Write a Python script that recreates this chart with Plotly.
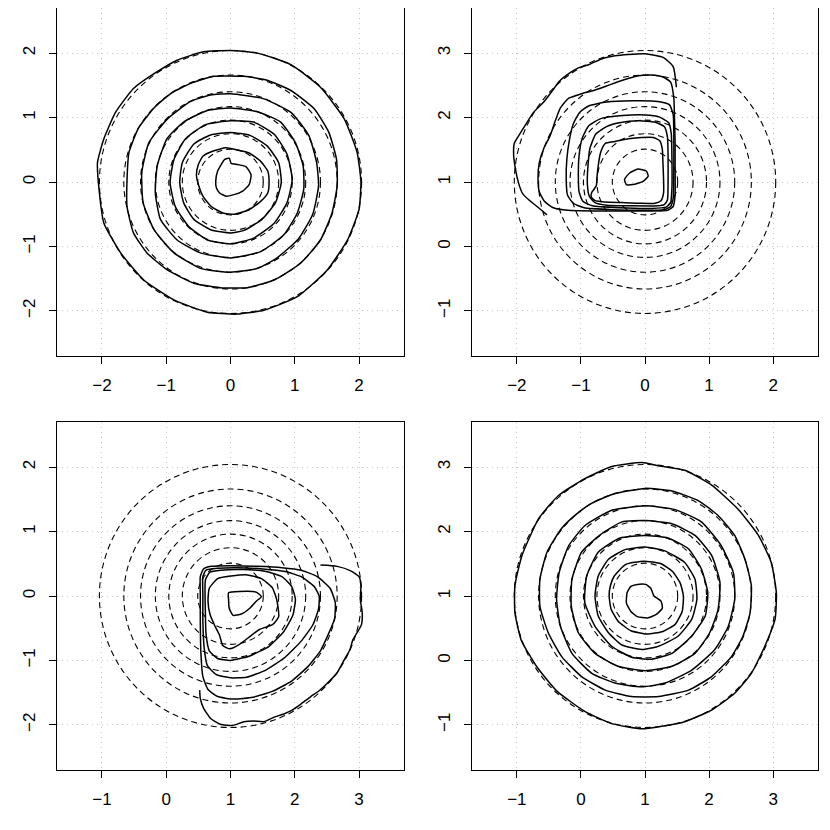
import plotly.graph_objects as go

# ---------------- theoretical contour radii (dashed circles) ----------------
RADII = [2.04, 1.66, 1.40, 1.17, 0.96, 0.75, 0.51]
CENTER_TL = (0.0, 0.0)
CENTER_TR = (0.0, 1.0)
CENTER_BL = (1.0, 0.0)
CENTER_BR = (1.0, 1.0)

# ---------------- tick values ----------------
TICKS_TL_X = [-2, -1, 0, 1, 2]
TICKS_TL_Y = [-2, -1, 0, 1, 2]
TICKS_TR_X = [-2, -1, 0, 1, 2]
TICKS_TR_Y = [-1, 0, 1, 2, 3]
TICKS_BL_X = [-1, 0, 1, 2, 3]
TICKS_BL_Y = [-2, -1, 0, 1, 2]
TICKS_BR_X = [-1, 0, 1, 2, 3]
TICKS_BR_Y = [-1, 0, 1, 2, 3]

# ---------------- top-left: empirical contours ----------------
TL_A_X = [0, 0.42, 0.94, 1.40, 1.77, 1.97, 2.03, 2.0, 1.82, 1.51, 1.04, 0.52, 0.10, -0.36, -0.88, -1.35, -1.71, -1.97, -2.04, -2.07, -1.97, -1.79, -1.51, -1.19, -0.83, -0.42, 0]
TL_A_Y = [2.04, 2.0, 1.82, 1.47, 0.98, 0.46, 0.0, -0.43, -0.90, -1.36, -1.78, -1.99, -2.05, -2.02, -1.83, -1.52, -1.10, -0.64, -0.17, 0.30, 0.67, 1.08, 1.45, 1.68, 1.89, 2.02, 2.04]
TL_B_X = [-1.18, -0.92, -0.62, -0.26, 0.21, 0.57, 0.94, 1.30, 1.53, 1.65, 1.66, 1.58, 1.40, 1.09, 0.68, 0.26, -0.16, -0.57, -0.99, -1.30, -1.51, -1.61, -1.61, -1.58, -1.43, -1.18]
TL_B_Y = [1.16, 1.38, 1.53, 1.64, 1.64, 1.58, 1.42, 1.14, 0.77, 0.35, -0.06, -0.48, -0.90, -1.26, -1.52, -1.64, -1.64, -1.57, -1.36, -1.10, -0.79, -0.38, 0.04, 0.46, 0.84, 1.16]
TL_C_X = [0, 0.52, 0.94, 1.22, 1.34, 1.37, 1.28, 1.06, 0.72, 0.42, 0, -0.47, -0.88, -1.19, -1.36, -1.38, -1.27, -0.98, -0.62, -0.31, 0]
TL_C_Y = [1.37, 1.29, 1.08, 0.72, 0.30, -0.06, -0.50, -0.88, -1.18, -1.34, -1.40, -1.34, -1.10, -0.74, -0.32, 0.15, 0.61, 0.98, 1.25, 1.35, 1.37]
TL_D_X = [0, 0.42, 0.78, 1.01, 1.13, 1.14, 1.04, 0.83, 0.47, 0, -0.47, -0.83, -1.09, -1.17, -1.14, -0.99, -0.73, -0.36, 0]
TL_D_Y = [1.15, 1.09, 0.93, 0.61, 0.25, -0.11, -0.48, -0.82, -1.08, -1.18, -1.10, -0.90, -0.58, -0.17, 0.25, 0.67, 0.93, 1.11, 1.15]
TL_E_X = [0, 0.36, 0.68, 0.88, 0.96, 0.88, 0.68, 0.36, 0, -0.36, -0.65, -0.86, -0.94, -0.88, -0.70, -0.39, 0]
TL_E_Y = [0.95, 0.93, 0.74, 0.43, 0.04, -0.32, -0.64, -0.87, -0.96, -0.90, -0.69, -0.38, -0.01, 0.35, 0.67, 0.89, 0.95]
TL_F_X = [0, 0.31, 0.57, 0.75, 0.79, 0.70, 0.49, 0.21, 0, -0.31, -0.57, -0.73, -0.79, -0.75, -0.57, -0.31, 0]
TL_F_Y = [0.77, 0.72, 0.56, 0.30, -0.01, -0.32, -0.58, -0.75, -0.79, -0.74, -0.58, -0.32, -0.01, 0.30, 0.59, 0.73, 0.77]
TL_G_X = [-0.50, -0.43, -0.27, -0.07, 0.09, 0.29, 0.47, 0.58, 0.60, 0.58, 0.47, 0.29, 0.06, -0.12, -0.30, -0.43, -0.50, -0.53, -0.50]
TL_G_Y = [0.27, 0.40, 0.48, 0.53, 0.50, 0.45, 0.32, 0.17, 0.01, -0.17, -0.30, -0.43, -0.50, -0.48, -0.38, -0.22, -0.04, 0.11, 0.27]
TL_H_X = [-0.23, -0.20, -0.09, -0.02, 0.01, 0.11, 0.24, 0.32, 0.29, 0.19, 0.04, -0.07, -0.17, -0.22, -0.23]
TL_H_Y = [0.01, 0.17, 0.35, 0.37, 0.29, 0.27, 0.24, 0.11, -0.04, -0.14, -0.20, -0.22, -0.17, -0.09, 0.01]

# ---------------- top-right: empirical contours ----------------
TR_A_X = [0.49, 0.44, 0.29, 0.0, -0.26, -0.47, -0.65, -0.88, -1.04, -1.19, -1.34, -1.45, -1.58, -1.74, -1.87, -1.97, -2.04, -2.05, -2.03, -2.0, -1.96, -1.91, -1.81, -1.66, -1.53]
TR_A_Y = [2.47, 2.79, 2.93, 2.99, 2.98, 2.96, 2.92, 2.82, 2.77, 2.68, 2.56, 2.41, 2.24, 2.08, 1.88, 1.72, 1.60, 1.41, 1.25, 1.09, 0.94, 0.82, 0.72, 0.60, 0.49]
TR_B_X = [-0.99, -1.19, -1.32, -1.40, -1.48, -1.58, -1.65, -1.67, -1.65, -1.57, -1.43, -1.2, -0.8, -0.3, 0.1, 0.35, 0.44, 0.47, 0.47, 0.47, 0.46, 0.45, 0.40, 0.28, 0.1, -0.1, -0.35, -0.6, -0.8, -0.99]
TR_B_Y = [2.37, 2.30, 2.15, 1.95, 1.72, 1.52, 1.30, 1.05, 0.85, 0.70, 0.60, 0.56, 0.55, 0.55, 0.55, 0.56, 0.62, 0.80, 1.2, 1.6, 2.0, 2.3, 2.55, 2.63, 2.66, 2.65, 2.58, 2.49, 2.42, 2.37]
TR_C_X = [-0.88, -1.02, -1.12, -1.18, -1.22, -1.23, -1.21, -1.12, -0.95, -0.5, 0, 0.3, 0.40, 0.44, 0.45, 0.45, 0.44, 0.38, 0.2, -0.2, -0.6, -0.88]
TR_C_Y = [2.18, 2.08, 1.90, 1.65, 1.35, 1.05, 0.80, 0.67, 0.60, 0.57, 0.56, 0.57, 0.62, 0.75, 1.2, 1.7, 2.05, 2.20, 2.25, 2.26, 2.24, 2.18]
TR_D_X = [-0.7, -0.88, -0.98, -1.03, -1.04, -1.03, -0.97, -0.82, -0.4, 0.1, 0.33, 0.40, 0.42, 0.42, 0.41, 0.37, 0.22, 0, -0.35, -0.7]
TR_D_Y = [1.98, 1.87, 1.68, 1.40, 1.10, 0.85, 0.70, 0.63, 0.60, 0.59, 0.61, 0.68, 0.9, 1.4, 1.75, 1.92, 2.01, 2.04, 2.03, 1.98]
TR_E_X = [-0.6, -0.77, -0.86, -0.89, -0.90, -0.87, -0.78, -0.6, -0.2, 0.2, 0.3, 0.35, 0.36, 0.36, 0.35, 0.30, 0.15, -0.1, -0.4, -0.6]
TR_E_Y = [1.86, 1.74, 1.52, 1.25, 0.98, 0.78, 0.68, 0.64, 0.63, 0.63, 0.65, 0.72, 1.0, 1.4, 1.7, 1.86, 1.93, 1.95, 1.92, 1.86]
TR_F_X = [-0.62, -0.47, -0.26, -0.05, 0.13, 0.23, 0.27, 0.28, 0.29, 0.29, 0.25, 0.16, -0.10, -0.36, -0.62, -0.78, -0.84, -0.83, -0.76, -0.75, -0.73, -0.70, -0.66, -0.62]
TR_F_Y = [1.60, 1.63, 1.67, 1.69, 1.69, 1.64, 1.51, 1.30, 1.04, 0.83, 0.71, 0.67, 0.67, 0.68, 0.69, 0.71, 0.77, 0.84, 0.94, 1.07, 1.25, 1.43, 1.54, 1.60]
TR_H_X = [-0.32, -0.24, -0.11, 0.02, 0.05, -0.03, -0.19, -0.29, -0.32]
TR_H_Y = [1.04, 1.14, 1.20, 1.17, 1.09, 1.01, 0.96, 0.96, 1.04]

# ---------------- bottom-left: empirical contours ----------------
BL_A_X = [2.40, 2.66, 2.87, 3.0, 3.03, 3.02, 3.05, 3.04, 2.97, 2.90, 2.86, 2.77, 2.66, 2.51, 2.38, 2.25, 2.09, 1.96, 1.83, 1.68, 1.52, 1.36, 1.21, 1.03, 0.84, 0.69, 0.58, 0.53, 0.52]
BL_A_Y = [0.48, 0.46, 0.39, 0.30, 0.16, -0.05, -0.26, -0.44, -0.57, -0.69, -0.83, -0.99, -1.19, -1.35, -1.47, -1.56, -1.68, -1.77, -1.83, -1.88, -1.95, -1.94, -1.95, -2.01, -1.99, -1.90, -1.74, -1.59, -1.46]
BL_B_X = [0.53, 0.58, 0.7, 1.0, 1.4, 1.8, 2.1, 2.35, 2.55, 2.63, 2.62, 2.52, 2.40, 2.2, 1.95, 1.65, 1.35, 1.05, 0.8, 0.65, 0.57, 0.54, 0.53, 0.53, 0.53]
BL_B_Y = [0.30, 0.42, 0.46, 0.47, 0.46, 0.44, 0.40, 0.30, 0.12, -0.10, -0.35, -0.60, -0.85, -1.10, -1.32, -1.48, -1.57, -1.60, -1.56, -1.45, -1.25, -0.9, -0.4, 0.0, 0.30]
BL_C_X = [0.57, 0.62, 0.8, 1.1, 1.5, 1.85, 2.1, 2.3, 2.38, 2.37, 2.28, 2.1, 1.85, 1.55, 1.25, 1.0, 0.78, 0.64, 0.59, 0.57, 0.57, 0.57]
BL_C_Y = [0.30, 0.40, 0.43, 0.44, 0.42, 0.38, 0.30, 0.15, 0.0, -0.2, -0.45, -0.7, -0.95, -1.15, -1.26, -1.27, -1.22, -1.08, -0.8, -0.4, 0.0, 0.30]
BL_D_X = [0.61, 0.68, 0.85, 1.2, 1.55, 1.8, 1.95, 2.01, 1.97, 1.83, 1.6, 1.3, 1.0, 0.8, 0.67, 0.62, 0.61, 0.61]
BL_D_Y = [0.25, 0.37, 0.40, 0.41, 0.38, 0.30, 0.15, -0.05, -0.3, -0.55, -0.78, -0.93, -1.0, -0.97, -0.85, -0.6, -0.3, 0.25]
BL_G_X = [0.67, 0.80, 1.01, 1.24, 1.48, 1.65, 1.72, 1.75, 1.66, 1.45, 1.30, 1.14, 0.99, 0.88, 0.83, 0.75, 0.68, 0.65, 0.67]
BL_G_Y = [0.12, 0.27, 0.31, 0.33, 0.27, 0.13, -0.06, -0.32, -0.44, -0.52, -0.63, -0.75, -0.82, -0.77, -0.61, -0.45, -0.28, -0.08, 0.12]
BL_H_X = [0.97, 1.14, 1.40, 1.48, 1.40, 1.30, 1.17, 1.04, 0.98, 0.97, 0.97]
BL_H_Y = [0.05, 0.07, 0.06, -0.01, -0.08, -0.19, -0.28, -0.30, -0.19, -0.06, 0.05]

# ---------------- bottom-right: empirical contours ----------------
BR_A_X = [0.95, 1.21, 1.62, 2.04, 2.45, 2.77, 2.97, 3.05, 3.03, 2.87, 2.66, 2.40, 2.04, 1.62, 1.26, 0.95, 0.48, 0.06, -0.37, -0.68, -0.93, -1.03, -1.03, -0.92, -0.66, -0.35, 0.06, 0.48, 0.95]
BR_A_Y = [3.07, 3.02, 2.95, 2.72, 2.35, 1.94, 1.52, 1.05, 0.64, 0.22, -0.20, -0.51, -0.77, -0.95, -1.02, -1.06, -0.98, -0.79, -0.48, -0.11, 0.31, 0.74, 1.16, 1.63, 2.20, 2.56, 2.82, 3.01, 3.07]
BR_B_X = [-0.07, 0.17, 0.50, 1.0, 1.42, 1.83, 2.14, 2.40, 2.56, 2.66, 2.64, 2.53, 2.35, 2.04, 1.68, 1.21, 0.79, 0.38, 0.01, -0.30, -0.51, -0.64, -0.64, -0.53, -0.30, -0.07]
BR_B_Y = [2.27, 2.44, 2.58, 2.67, 2.63, 2.48, 2.25, 1.94, 1.57, 1.16, 0.74, 0.38, 0.06, -0.25, -0.46, -0.56, -0.56, -0.46, -0.25, 0.06, 0.43, 0.84, 1.26, 1.68, 2.05, 2.27]
BR_C_X = [1.0, 1.47, 1.88, 2.19, 2.38, 2.40, 2.30, 2.09, 1.73, 1.31, 0.95, 0.53, 0.17, -0.14, -0.32, -0.38, -0.34, -0.19, 0.06, 0.48, 1.0]
BR_C_Y = [2.40, 2.34, 2.15, 1.78, 1.36, 0.95, 0.53, 0.17, -0.15, -0.35, -0.41, -0.35, -0.20, 0.11, 0.53, 0.95, 1.36, 1.78, 2.09, 2.33, 2.40]
BR_D_X = [1.0, 1.42, 1.78, 2.04, 2.17, 2.14, 2.01, 1.78, 1.42, 1.0, 0.58, 0.22, -0.04, -0.15, -0.14, 0.01, 0.30, 0.64, 1.0]
BR_D_Y = [2.17, 2.12, 1.94, 1.63, 1.21, 0.79, 0.43, 0.11, -0.09, -0.16, -0.09, 0.11, 0.43, 0.84, 1.26, 1.68, 1.95, 2.15, 2.17]
BR_E_X = [1.0, 1.36, 1.68, 1.88, 1.98, 1.94, 1.73, 1.42, 1.10, 0.79, 0.48, 0.22, 0.06, 0.09, 0.27, 0.61, 1.0]
BR_E_Y = [1.94, 1.90, 1.73, 1.42, 1.05, 0.69, 0.38, 0.11, 0.02, 0.05, 0.22, 0.53, 0.90, 1.31, 1.68, 1.90, 1.94]
BR_F_X = [1.0, 1.31, 1.62, 1.78, 1.81, 1.73, 1.52, 1.21, 0.95, 0.64, 0.43, 0.27, 0.22, 0.27, 0.43, 0.69, 1.0]
BR_F_Y = [1.76, 1.70, 1.52, 1.26, 0.95, 0.64, 0.38, 0.22, 0.17, 0.24, 0.43, 0.69, 1.0, 1.31, 1.57, 1.72, 1.76]
BR_G_X = [0.52, 0.70, 0.98, 1.25, 1.43, 1.55, 1.60, 1.58, 1.47, 1.28, 1.03, 0.78, 0.58, 0.47, 0.44, 0.46, 0.52]
BR_G_Y = [1.31, 1.49, 1.54, 1.50, 1.38, 1.20, 1.0, 0.76, 0.56, 0.45, 0.41, 0.46, 0.61, 0.80, 1.0, 1.16, 1.31]
BR_H_X = [0.72, 0.78, 0.88, 1.01, 1.09, 1.14, 1.25, 1.27, 1.17, 1.04, 0.88, 0.78, 0.71, 0.72]
BR_H_Y = [1.05, 1.15, 1.18, 1.18, 1.12, 1.0, 0.92, 0.81, 0.71, 0.66, 0.68, 0.76, 0.89, 1.05]

PANELS = [
    dict(xa="x", ya="y", center=CENTER_TL, xr=[-2.7, 2.7], yr=[-2.7, 2.7],
         xt=TICKS_TL_X, yt=TICKS_TL_Y, dx=[57, 404], dy=[8, 356],
         lines=[(TL_A_X, TL_A_Y), (TL_B_X, TL_B_Y), (TL_C_X, TL_C_Y), (TL_D_X, TL_D_Y),
                (TL_E_X, TL_E_Y), (TL_F_X, TL_F_Y), (TL_G_X, TL_G_Y), (TL_H_X, TL_H_Y)]),
    dict(xa="x2", ya="y2", center=CENTER_TR, xr=[-2.7, 2.7], yr=[-1.7, 3.7],
         xt=TICKS_TR_X, yt=TICKS_TR_Y, dx=[472, 818], dy=[8, 356],
         lines=[(TR_A_X, TR_A_Y), (TR_B_X, TR_B_Y), (TR_C_X, TR_C_Y), (TR_D_X, TR_D_Y),
                (TR_E_X, TR_E_Y), (TR_F_X, TR_F_Y), (TR_H_X, TR_H_Y)]),
    dict(xa="x3", ya="y3", center=CENTER_BL, xr=[-1.7, 3.7], yr=[-2.7, 2.7],
         xt=TICKS_BL_X, yt=TICKS_BL_Y, dx=[57, 404], dy=[422, 770],
         lines=[(BL_A_X, BL_A_Y), (BL_B_X, BL_B_Y), (BL_C_X, BL_C_Y), (BL_D_X, BL_D_Y),
                (BL_G_X, BL_G_Y), (BL_H_X, BL_H_Y)]),
    dict(xa="x4", ya="y4", center=CENTER_BR, xr=[-1.7, 3.7], yr=[-1.7, 3.7],
         xt=TICKS_BR_X, yt=TICKS_BR_Y, dx=[472, 818], dy=[422, 770],
         lines=[(BR_A_X, BR_A_Y), (BR_B_X, BR_B_Y), (BR_C_X, BR_C_Y), (BR_D_X, BR_D_Y),
                (BR_E_X, BR_E_Y), (BR_F_X, BR_F_Y), (BR_G_X, BR_G_Y), (BR_H_X, BR_H_Y)]),
]

OFF = 8          # default page margin of the html body
W = H = 830 - OFF
FONT = "Liberation Sans, Arial, Helvetica, sans-serif"

fig = go.Figure()
shapes = []
layout = dict(width=W, height=H, margin=dict(l=0, r=0, t=0, b=0),
              paper_bgcolor="white", plot_bgcolor="white", showlegend=False,
              font=dict(family=FONT, size=17, color="black"))

for p in PANELS:
    for lx, ly in p["lines"]:
        fig.add_trace(go.Scatter(x=lx, y=ly, mode="lines", xaxis=p["xa"], yaxis=p["ya"],
                                 line=dict(color="black", width=1.5, shape="spline", smoothing=0.5),
                                 hoverinfo="skip"))
    cx, cy = p["center"]
    for r in RADII:
        shapes.append(dict(type="circle", xref=p["xa"], yref=p["ya"],
                           x0=cx - r, x1=cx + r, y0=cy - r, y1=cy + r,
                           line=dict(color="black", width=1.1, dash="6px,4px"), layer="above"))
    xkey = "xaxis" if p["xa"] == "x" else "xaxis" + p["xa"][1:]
    ykey = "yaxis" if p["ya"] == "y" else "yaxis" + p["ya"][1:]
    axcommon = dict(showline=True, mirror=True, linecolor="black", linewidth=1,
                    ticks="outside", ticklen=7, tickcolor="black", tickwidth=1,
                    showgrid=True, gridcolor="#c8c8c8", griddash="1px,4px", gridwidth=1,
                    zeroline=False, tickfont=dict(family=FONT, size=17, color="black"),
                    ticklabelstandoff=7)
    layout[xkey] = dict(axcommon, range=p["xr"], tickvals=p["xt"], anchor=p["ya"],
                        domain=[(p["dx"][0] - OFF) / W, (p["dx"][1] - OFF) / W])
    layout[ykey] = dict(axcommon, range=p["yr"], tickvals=p["yt"], anchor=p["xa"],
                        tickangle=-90,
                        domain=[1 - (p["dy"][1] - OFF) / H, 1 - (p["dy"][0] - OFF) / H])

layout["shapes"] = shapes
fig.update_layout(**layout)
fig.write_html("out.html")
